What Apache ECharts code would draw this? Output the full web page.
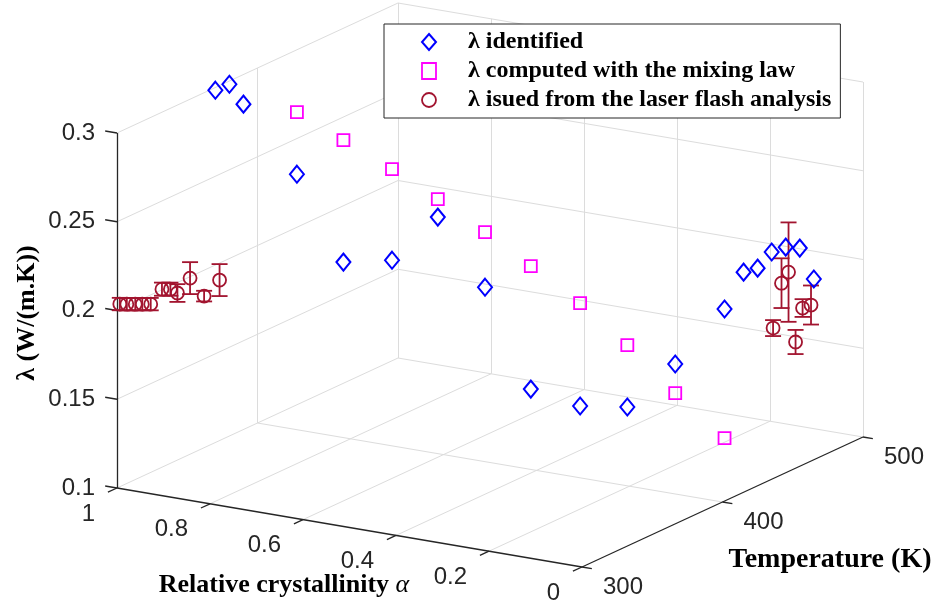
<!DOCTYPE html>
<html>
<head>
<meta charset="utf-8">
<script src="https://cdn.jsdelivr.net/npm/echarts@6.0.0/dist/echarts.min.js"></script>
<style>
  html, body { margin: 0; padding: 0; background: #fff; }
  #chart { width: 937px; height: 605px; }
</style>
</head>
<body>
<div id="chart"></div>
<script>
// axis ticks
const alphaTicks = [0, 0.2, 0.4, 0.6, 0.8, 1];
const alphaLabels = ['0', '0.2', '0.4', '0.6', '0.8', '1'];
const tempTicks = [300, 400, 500];
const tempLabels = ['300', '400', '500'];
const lambdaTicks = [0.1, 0.15, 0.2, 0.25, 0.3];
const lambdaLabels = ['0.1', '0.15', '0.2', '0.25', '0.3'];

// λ identified
const identAlpha = [1, 1, 1,
  0.95, 0.85, 0.75, 0.65, 0.55, 0.45, 0.35, 0.25, 0.15, 0.05,
  0, 0, 0, 0, 0, 0];
const identTemp = [370, 380, 390,
  411.5, 411.5, 413, 412.5, 413, 412.5, 414.5, 415, 416, 418,
  415, 425, 435, 445, 455, 465];
const identLambda = [0.2985, 0.2982, 0.2833,
  0.2382, 0.1931, 0.1981, 0.2270, 0.1918, 0.1390, 0.1332, 0.1369, 0.1652, 0.1999,
  0.2240, 0.2226, 0.2280, 0.2271, 0.2229, 0.2018];

// λ computed with the mixing law
const mixAlpha = [0.95, 0.85, 0.75, 0.65, 0.55, 0.45, 0.35, 0.25, 0.15, 0.05];
const mixTemp = [411.5, 411.5, 413, 412.5, 413, 412.5, 414.5, 415, 416, 418];
const mixLambda = [0.2731, 0.2618, 0.2494, 0.2371, 0.2228, 0.2083, 0.1912, 0.1718, 0.1488, 0.1272];

// λ from laser flash analysis (with error)
const lfaAlpha = [1, 1, 1, 1, 1, 1, 1, 1, 1, 1, 1,
  0, 0, 0, 0, 0, 0];
const lfaTemp = [302, 307, 313, 318, 324, 332, 338, 343, 352, 362, 373,
  436, 442, 447, 452, 457, 463];
const lfaLambda = [0.2029, 0.2010, 0.1988, 0.1970, 0.1948, 0.2003, 0.1981, 0.1941, 0.1992, 0.1854, 0.1904,
  0.1848, 0.2079, 0.2123, 0.1711, 0.1884, 0.1879];
const lfaErr = [0.0035, 0.0035, 0.0035, 0.0035, 0.0035, 0.0037, 0.0037, 0.005, 0.009, 0.003, 0.009,
  0.0045, 0.014, 0.028, 0.0068, 0.005, 0.011];

const seriesNames = [
  'λ identified',
  'λ computed with the mixing law',
  'λ isued from the laser flash analysis'
];

// orthographic view of the 3D box (alpha runs 1 -> 0 toward the viewer)
const view = { x0: 117, y0: 488, ax: 465, ay: 79, tx: 281, ty: -130, lz: -355 };
function project(a, t, l) {
  const fa = 1 - a;
  const ft = (t - 300) / 200;
  const fl = (l - 0.1) / 0.2;
  return [view.x0 + fa * view.ax + ft * view.tx, view.y0 + fa * view.ay + ft * view.ty + fl * view.lz];
}
function unit(x, y) {
  const n = Math.sqrt(x * x + y * y);
  return [x / n, y / n];
}

const gridSegs = [];
alphaTicks.filter(a => a > 0).forEach(a => gridSegs.push([project(a, 300, 0.1), project(a, 500, 0.1)]));
tempTicks.filter(t => t > 300).forEach(t => gridSegs.push([project(1, t, 0.1), project(0, t, 0.1)]));
tempTicks.filter(t => t > 300).forEach(t => gridSegs.push([project(1, t, 0.1), project(1, t, 0.3)]));
lambdaTicks.filter(l => l > 0.1).forEach(l => gridSegs.push([project(1, 300, l), project(1, 500, l)]));
alphaTicks.filter(a => a < 1).forEach(a => gridSegs.push([project(a, 500, 0.1), project(a, 500, 0.3)]));
lambdaTicks.filter(l => l > 0.1).forEach(l => gridSegs.push([project(1, 500, l), project(0, 500, l)]));

const axisSegs = [
  [project(1, 300, 0.1), project(1, 300, 0.3)],
  [project(1, 300, 0.1), project(0, 300, 0.1)],
  [project(0, 300, 0.1), project(0, 500, 0.1)]
];

const dirA = unit(view.ax, view.ay);
const dirT = unit(view.tx, view.ty);
const tickSegs = [];
lambdaTicks.forEach(l => {
  const p = project(1, 300, l);
  tickSegs.push([p, [p[0] - dirA[0] * 12, p[1] - dirA[1] * 12]]);
});
alphaTicks.forEach(a => {
  const p = project(a, 300, 0.1);
  tickSegs.push([p, [p[0] - dirT[0] * 10, p[1] - dirT[1] * 10]]);
});
tempTicks.forEach(t => {
  const p = project(0, t, 0.1);
  tickSegs.push([p, [p[0] + dirA[0] * 10, p[1] + dirA[1] * 10]]);
});

function segSeries(segs, color, width) {
  return {
    type: 'lines',
    coordinateSystem: 'cartesian2d',
    silent: true,
    z: 1,
    data: segs.map(s => ({ coords: s })),
    lineStyle: { color: color, width: width, opacity: 1 }
  };
}

function labelSeries(points, texts, dx, dy, align) {
  return {
    type: 'custom',
    silent: true,
    data: points,
    renderItem: function (params, api) {
      const p = api.coord([api.value(0), api.value(1)]);
      return {
        type: 'text',
        x: p[0] + dx,
        y: p[1] + dy,
        style: {
          text: texts[params.dataIndex],
          align: align,
          verticalAlign: 'middle',
          font: '24px "Liberation Sans", Arial, sans-serif',
          fill: '#262626'
        }
      };
    }
  };
}

const errColor = '#A2142F';
const errData = lfaAlpha.map((a, i) => [a, lfaTemp[i], lfaLambda[i], lfaErr[i]]);

const chart = echarts.init(document.getElementById('chart'));
chart.setOption({
  animation: false,
  backgroundColor: '#fff',
  grid: { left: 0, right: 0, top: 0, bottom: 0 },
  xAxis: { type: 'value', min: 0, max: 937, show: false },
  yAxis: { type: 'value', min: 0, max: 605, inverse: true, show: false },
  legend: {
    left: 384,
    top: 24,
    orient: 'vertical',
    padding: [6, 9, 6, 37],
    itemGap: 5,
    itemWidth: 14,
    itemHeight: 16,
    symbolKeepAspect: true,
    backgroundColor: '#fff',
    borderColor: '#262626',
    borderWidth: 1,
    borderRadius: 0,
    textStyle: {
      fontFamily: '"Liberation Serif", "Times New Roman", serif',
      fontWeight: 'bold',
      fontSize: 24,
      color: '#000',
      padding: [0, 0, 0, 27]
    },
    data: [
      { name: seriesNames[0], icon: 'diamond', itemStyle: { color: 'rgba(0,0,0,0)', borderColor: '#0000FF', borderWidth: 2 } },
      { name: seriesNames[1], icon: 'rect', itemStyle: { color: 'rgba(0,0,0,0)', borderColor: '#FF00FF', borderWidth: 1.8 } },
      { name: seriesNames[2], icon: 'circle', itemStyle: { color: 'rgba(0,0,0,0)', borderColor: errColor, borderWidth: 1.8 } }
    ]
  },
  graphic: [
    {
      type: 'text', x: 27, y: 313, rotation: Math.PI / 2,
      style: { text: 'λ (W/(m.K))', align: 'center', verticalAlign: 'middle', font: 'bold 26px "Liberation Serif", serif', fill: '#000' }
    },
    {
      type: 'text', x: 284, y: 585,
      style: {
        text: 'Relative crystallinity {a|α}', align: 'center', verticalAlign: 'middle',
        font: 'bold 26px "Liberation Serif", serif', fill: '#000',
        rich: { a: { font: 'italic 26px "Liberation Serif", serif', fill: '#000' } }
      }
    },
    {
      type: 'text', x: 830, y: 560,
      style: { text: 'Temperature (K)', align: 'center', verticalAlign: 'middle', font: 'bold 28px "Liberation Serif", serif', fill: '#000' }
    }
  ],
  series: [
    segSeries(gridSegs, '#dcdcdc', 1),
    segSeries(axisSegs, '#262626', 1.3),
    segSeries(tickSegs, '#262626', 1.3),
    labelSeries(lambdaTicks.map(l => project(1, 300, l)), lambdaLabels, -22, 0, 'right'),
    labelSeries(alphaTicks.map(a => project(a, 300, 0.1)), alphaLabels, -22, 26, 'right'),
    labelSeries(tempTicks.map(t => project(0, t, 0.1)), tempLabels, 21, 20, 'left'),
    {
      name: seriesNames[0],
      type: 'scatter',
      symbol: 'diamond',
      symbolSize: [14, 17],
      data: identAlpha.map((a, i) => project(a, identTemp[i], identLambda[i])),
      itemStyle: { color: 'rgba(0,0,0,0)', borderColor: '#0000FF', borderWidth: 2, opacity: 1 },
      z: 3
    },
    {
      name: seriesNames[1],
      type: 'scatter',
      symbol: 'rect',
      symbolSize: 12,
      data: mixAlpha.map((a, i) => project(a, mixTemp[i], mixLambda[i])),
      itemStyle: { color: 'rgba(0,0,0,0)', borderColor: '#FF00FF', borderWidth: 1.8, opacity: 1 },
      z: 3
    },
    {
      name: seriesNames[2],
      type: 'scatter',
      symbol: 'circle',
      symbolSize: 13,
      data: lfaAlpha.map((a, i) => project(a, lfaTemp[i], lfaLambda[i])),
      itemStyle: { color: 'rgba(0,0,0,0)', borderColor: errColor, borderWidth: 1.8, opacity: 1 },
      z: 3
    },
    {
      type: 'custom',
      silent: true,
      z: 3,
      data: errData,
      renderItem: function (params, api) {
        const a = api.value(0), t = api.value(1), l = api.value(2), e = api.value(3);
        const top = api.coord(project(a, t, l + e));
        const bot = api.coord(project(a, t, l - e));
        const w = 8;
        const st = { stroke: errColor, lineWidth: 1.8 };
        return {
          type: 'group',
          children: [
            { type: 'line', shape: { x1: top[0], y1: top[1], x2: bot[0], y2: bot[1] }, style: st },
            { type: 'line', shape: { x1: top[0] - w, y1: top[1], x2: top[0] + w, y2: top[1] }, style: st },
            { type: 'line', shape: { x1: bot[0] - w, y1: bot[1], x2: bot[0] + w, y2: bot[1] }, style: st }
          ]
        };
      }
    }
  ]
});
</script>
</body>
</html>
